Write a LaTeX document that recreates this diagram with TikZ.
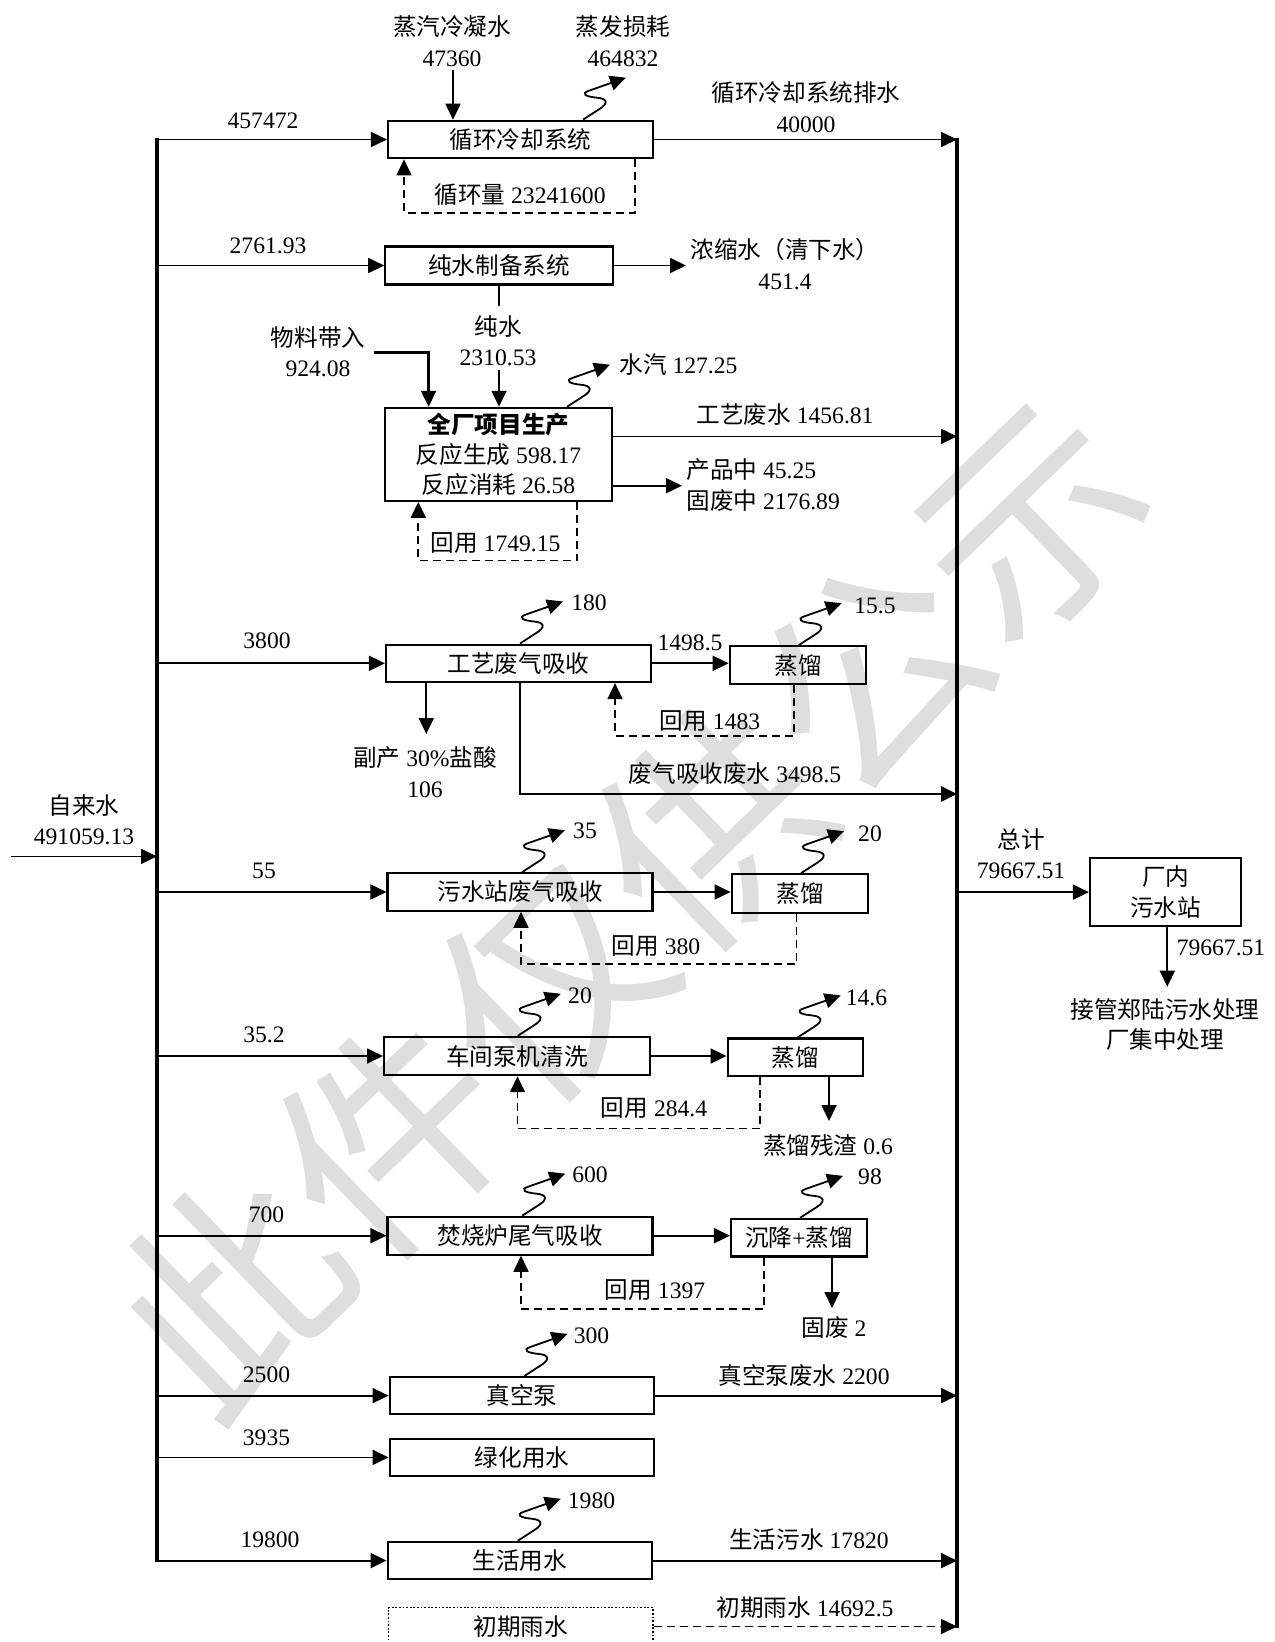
\documentclass[tikz,border=0pt]{standalone}
\usepackage{fontspec}
\setmainfont{Liberation Serif}
\newfontfamily\cjk{Noto Sans CJK SC}
\usetikzlibrary{arrows.meta,calc}
\newcommand\zh[1]{{\cjk #1}}
\newcommand\fs{\fontsize{11.8pt}{15.2pt}\selectfont}
\definecolor{wmgray}{RGB}{222,222,222}
\begin{document}
\begin{tikzpicture}[x=0.5pt,y=-0.5pt,
  box/.style={draw, line width=1.05pt, inner sep=0pt, font=\fs, align=center},
  rainbox/.style={draw, line width=0.75pt, dash pattern=on 0.9pt off 0.9pt, inner sep=0pt, font=\fs},
  lbl/.style={inner sep=0pt, font=\fs, align=center},
  arrtip/.style={-{Triangle[length=8pt,width=7.5pt]}},
  arr/.style={line width=0.9pt, arrtip},
  darr/.style={line width=0.85pt, dash pattern=on 4pt off 2.5pt, arrtip},
  bus/.style={line width=1.6pt, line cap=rect},
  fat/.style={line width=1.4pt, arrtip},
  wavy/.pic={\draw[arr] (0,0) -- (17,-11) .. controls (25,-16) and (25,-21) .. (14,-22) .. controls (3,-23) and (-3,-26) .. (6,-29) -- (43,-42);}
]
\useasboundingbox (0,0) rectangle (1274,1642);
\fill[white] (0,0) rectangle (1274,1642);

% watermark
\node[text=wmgray, rotate=44, inner sep=0pt, font=\cjk\fontsize{111pt}{111pt}\selectfont] (wm) at (630,905) {此件仅供公示};

\coordinate (lbus) at (157,0);
\coordinate (rbus) at (957,0);

% boxes
\node[box, minimum width=132.5pt, minimum height=18.75pt] (cool) at (520.5,139.5) {\zh{循环冷却系统}};
\node[box, minimum width=113.75pt, minimum height=19pt] (pure) at (499,265.5) {\zh{纯水制备系统}};
\node[box, minimum width=113.25pt, minimum height=46.5pt] (prod) at (498.5,454.3) {{\bfseries\zh{全厂项目生产}}\\\zh{反应生成} 598.17\\\zh{反应消耗} 26.58};
\node[box, minimum width=132.5pt, minimum height=18.75pt] (gas) at (518.5,663.3) {\zh{工艺废气吸收}};
\node[box, minimum width=68.25pt, minimum height=19pt] (dist1) at (798,665.3) {\zh{蒸馏}};
\node[box, minimum width=132.5pt, minimum height=18.75pt] (sew) at (520,892) {\zh{污水站废气吸收}};
\node[box, minimum width=68.3pt, minimum height=19.25pt] (dist2) at (800,893.5) {\zh{蒸馏}};
\node[box, minimum width=132.75pt, minimum height=19.15pt] (pump) at (516.8,1056) {\zh{车间泵机清洗}};
\node[box, minimum width=67.7pt, minimum height=18.75pt] (dist3) at (795.3,1057.2) {\zh{蒸馏}};
\node[box, minimum width=132.5pt, minimum height=19pt] (inc) at (520,1235.7) {\zh{焚烧炉尾气吸收}};
\node[box, minimum width=68pt, minimum height=18.8pt] (sed) at (799,1237.7) {\zh{沉降}+\zh{蒸馏}};
\node[box, minimum width=132.35pt, minimum height=18.65pt] (vac) at (522,1395.6) {\zh{真空泵}};
\node[box, minimum width=132.35pt, minimum height=18.8pt] (green) at (522,1457.4) {\zh{绿化用水}};
\node[box, minimum width=132pt, minimum height=18.8pt] (life) at (519.6,1560.6) {\zh{生活用水}};
\node[rainbox, minimum width=132.3pt, minimum height=18.8pt] (rain) at (520.7,1626.5) {\zh{初期雨水}};
\node[box, minimum width=75.65pt, minimum height=33.9pt] (plant) at (1165.6,892.1) {\zh{厂内}\\\zh{污水站}};

% buses
\draw[bus] (lbus |- cool.west) -- (lbus |- life.west);
\draw[bus] (rbus |- cool.east) -- (rbus |- rain.east);
\foreach \b in {cool,pure,gas,sew,pump,inc,vac,green,life} {
  \draw[arr] (lbus |- \b.west) -- (\b.west);
}
\coordinate (inS) at (11,856.4);
\draw[arr] (inS) -- (inS -| lbus);

% outflows to right bus
\draw[arr] (cool.east) -- (rbus |- cool.east);
\coordinate (p1) at ($(prod.east)+(0,-17.9)$);
\draw[arr] (p1) -- (p1 -| rbus);
\coordinate (gw) at (520,794);
\draw[fat] (gas.south -| gw) -- (gw) -- (gw -| rbus);
\draw[arr] (vac.east) -- (rbus |- vac.east);
\draw[arr] (life.east) -- (rbus |- life.east);
\draw[darr] (rain.east) -- (rbus |- rain.east);
\draw[arr] (rbus |- plant.west) -- (plant.west);
\coordinate (outE) at (1167.3,986.7);
\draw[arr] (plant.south -| outE) -- (outE);

% other flows
\coordinate (cnS) at (453,69.6);
\draw[arr] (cnS) -- (cnS |- cool.north);
\coordinate (conc) at (686,265.5);
\draw[arr] (pure.east) -- (conc);
\coordinate (pwA) at (499,306.4);
\draw[line width=0.9pt] (pure.south) -- (pwA);
\coordinate (pwS) at (499,369.6);
\draw[arr] (pwS) -- (pwS |- prod.north);
\coordinate (matS) at (374,352.5);
\coordinate (matE) at (428.6,0);
\draw[arr, line width=1.2pt] (matS) -| (matE |- prod.north);
\coordinate (p2) at ($(prod.east)+(0,31.4)$);
\coordinate (p2e) at (682,0);
\draw[arr] (p2) -- (p2 -| p2e);
\draw[arr] (gas.east) -- (gas.east -| dist1.west);
\draw[arr] (sew.east) -- (sew.east -| dist2.west);
\draw[arr] (pump.east) -- (pump.east -| dist3.west);
\draw[arr] (inc.east) -- (inc.east -| sed.west);
\coordinate (hclE) at (426.3,734);
\draw[arr] (gas.south -| hclE) -- (hclE);
\coordinate (resE) at (829,1121);
\draw[arr] (dist3.south -| resE) -- (resE);
\coordinate (swE) at (832,1308);
\draw[arr] (sed.south -| swE) -- (swE);

% recycle loops
\coordinate (c1) at (635,212.8); \coordinate (c2) at (404,212.8);
\draw[darr] (c1 |- cool.south) -- (c1) -- (c2) -- (c2 |- cool.south);
\coordinate (c3) at (577,560.6); \coordinate (c4) at (418.3,560.6);
\draw[darr] (c3 |- prod.south) -- (c3) -- (c4) -- (c4 |- prod.south);
\coordinate (c5) at (794.3,735.7); \coordinate (c6) at (615,735.7);
\draw[darr] (c5 |- dist1.south) -- (c5) -- (c6) -- (c6 |- gas.south);
\coordinate (c7) at (796.6,964); \coordinate (c8) at (521,964);
\draw[darr] (c7 |- dist2.south) -- (c7) -- (c8) -- (c8 |- sew.south);
\coordinate (c9) at (760,1128.5); \coordinate (c10) at (517.5,1128.5);
\draw[darr] (c9 |- dist3.south) -- (c9) -- (c10) -- (c10 |- pump.south);
\coordinate (c11) at (764,1308.8); \coordinate (c12) at (521,1308.8);
\draw[darr] (c11 |- sed.south) -- (c11) -- (c12) -- (c12 |- inc.south);

% evaporation (wavy) arrows
\pic at ($(cool.north)+(62.5,0)$) {wavy};
\pic at ($(prod.north)+(68.5,0)$) {wavy};
\pic at ($(gas.north)+(1.5,0)$) {wavy};
\pic at ($(dist1.north)+(0.6,0)$) {wavy};
\pic at ($(sew.north)+(2,0)$) {wavy};
\pic at ($(dist2.north)+(1,0)$) {wavy};
\pic at ($(pump.north)+(1,0)$) {wavy};
\pic at ($(dist3.north)+(2.4,0)$) {wavy};
\pic at ($(inc.north)+(2.3,0)$) {wavy};
\pic at ($(sed.north)+(1,0)$) {wavy};
\pic at ($(vac.north)+(2.5,0)$) {wavy};
\pic at ($(life.north)+(-1.8,0)$) {wavy};

% labels
\node[lbl] (t1) at (452,41) {\zh{蒸汽冷凝水}\\47360};
\node[lbl] (t2) at (623,41) {\zh{蒸发损耗}\\464832};
\node[lbl] (t3) at (263,121) {457472};
\node[lbl] (t4) at (806,107) {\zh{循环冷却系统排水}\\40000};
\node[lbl] (t5) at (520,195) {\zh{循环量} 23241600};
\node[lbl] (t6) at (268,246) {2761.93};
\node[lbl] (t7) at (785,264) {\zh{浓缩水（清下水）}\\451.4};
\node[lbl] (t8) at (498,341) {\zh{纯水}\\2310.53};
\node[lbl] (t9) at (318,352) {\zh{物料带入}\\924.08};
\node[lbl, anchor=west] (t10) at (619,365) {\zh{水汽} 127.25};
\node[lbl] (t11) at (785,415) {\zh{工艺废水} 1456.81};
\node[lbl, anchor=west, align=left] (t12) at (686,485) {\zh{产品中} 45.25\\\zh{固废中} 2176.89};
\node[lbl] (t13) at (495.5,543) {\zh{回用} 1749.15};
\node[lbl] (t14) at (267,641) {3800};
\node[lbl] (t15) at (589,603) {180};
\node[lbl] (t16) at (690,643) {1498.5};
\node[lbl] (t17) at (875,606) {15.5};
\node[lbl] (t18) at (710,721) {\zh{回用} 1483};
\node[lbl] (t19) at (425,772) {\zh{副产} 30\%\zh{盐酸}\\106};
\node[lbl] (t20) at (735,774) {\zh{废气吸收废水} 3498.5};
\node[lbl] (t21) at (84,820) {\zh{自来水}\\491059.13};
\node[lbl] (t22) at (585,831) {35};
\node[lbl] (t23) at (264,871) {55};
\node[lbl] (t24) at (870,834) {20};
\node[lbl] (t25) at (656,946) {\zh{回用} 380};
\node[lbl] (t26) at (1021,854) {\zh{总计}\\79667.51};
\node[lbl] (t27) at (1221,947.5) {79667.51};
\node[lbl] (t28) at (1165,1024.5) {\zh{接管郑陆污水处理}\\\zh{厂集中处理}};
\node[lbl] (t29) at (580,996) {20};
\node[lbl] (t30) at (866.5,997.5) {14.6};
\node[lbl] (t31) at (264,1035) {35.2};
\node[lbl] (t32) at (654,1108) {\zh{回用} 284.4};
\node[lbl] (t33) at (828,1146) {\zh{蒸馏残渣} 0.6};
\node[lbl] (t34) at (590,1175) {600};
\node[lbl] (t35) at (870,1177) {98};
\node[lbl] (t36) at (266.5,1215) {700};
\node[lbl] (t37) at (655,1290) {\zh{回用} 1397};
\node[lbl] (t38) at (834,1328) {\zh{固废} 2};
\node[lbl] (t39) at (591.5,1336) {300};
\node[lbl] (t40) at (266.5,1375) {2500};
\node[lbl] (t41) at (804,1376) {\zh{真空泵废水} 2200};
\node[lbl] (t42) at (266.5,1438) {3935};
\node[lbl] (t43) at (591.5,1500.5) {1980};
\node[lbl] (t44) at (270,1539.5) {19800};
\node[lbl] (t45) at (809,1540) {\zh{生活污水} 17820};
\node[lbl] (t46) at (805,1607.7) {\zh{初期雨水} 14692.5};
\end{tikzpicture}
\end{document}
